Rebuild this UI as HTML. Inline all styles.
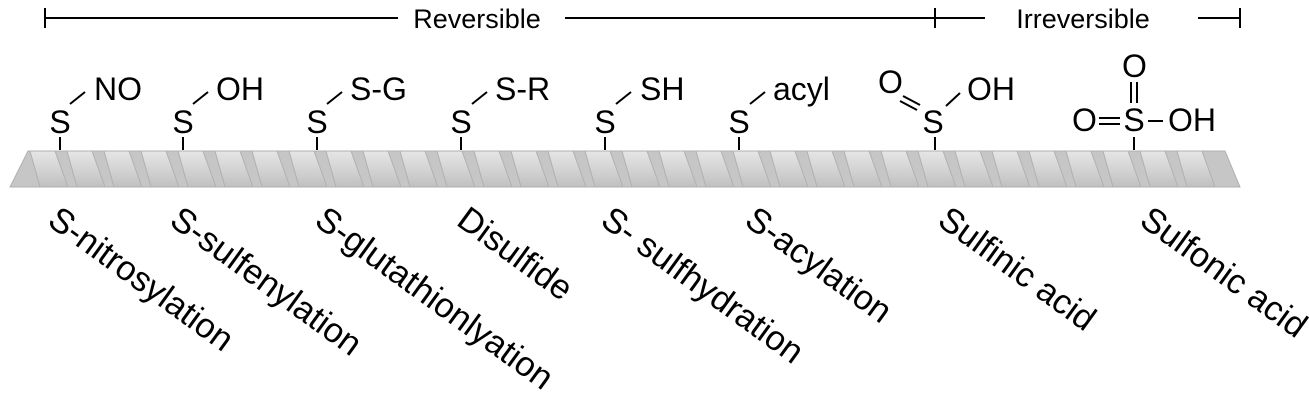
<!DOCTYPE html>
<html><head><style>body{margin:0;background:#fff}svg{display:block}</style></head><body>
<svg width="1309" height="401" viewBox="0 0 1309 401" xmlns="http://www.w3.org/2000/svg" font-family="Liberation Sans, Arial, sans-serif">
<defs>
<linearGradient id="g2" x1="0" y1="0" x2="0" y2="1">
<stop offset="0" stop-color="#e6e6e6"/><stop offset="0.5" stop-color="#d4d4d4"/><stop offset="1" stop-color="#c0c0c0"/></linearGradient>
</defs>
<g stroke="#000" stroke-width="2">
<line x1="45" y1="18" x2="398" y2="18"/><line x1="565" y1="18" x2="990" y2="18"/>
<line x1="45" y1="8" x2="45" y2="28"/><line x1="935" y1="8" x2="935" y2="28"/>
<line x1="1198" y1="18" x2="1240" y2="18"/><line x1="1240" y1="8" x2="1240" y2="28"/>
</g>
<rect x="985" y="8" width="195" height="22" fill="#fff"/>
<text x="477" y="28" font-size="27" text-anchor="middle">Reversible</text>
<text x="1083" y="28" font-size="27" text-anchor="middle">Irreversible</text>
<polygon points="28,151 1225,151 1240,187 10,187" fill="#c6c6c6" stroke="#b0b0b0"/>
<g stroke="#b0b0b0" stroke-width="1">
<polygon points="30,151 55,151 68,187 40,187" fill="url(#g2)"/>
<polygon points="67,151 92,151 105,187 77,187" fill="url(#g2)"/>
<polygon points="104,151 129,151 142,187 114,187" fill="url(#g2)"/>
<polygon points="141,151 166,151 179,187 151,187" fill="url(#g2)"/>
<polygon points="178,151 203,151 216,187 188,187" fill="url(#g2)"/>
<polygon points="215,151 240,151 253,187 225,187" fill="url(#g2)"/>
<polygon points="252,151 277,151 290,187 262,187" fill="url(#g2)"/>
<polygon points="289,151 314,151 327,187 299,187" fill="url(#g2)"/>
<polygon points="326,151 351,151 364,187 336,187" fill="url(#g2)"/>
<polygon points="363,151 388,151 401,187 373,187" fill="url(#g2)"/>
<polygon points="400,151 425,151 438,187 410,187" fill="url(#g2)"/>
<polygon points="437,151 462,151 475,187 447,187" fill="url(#g2)"/>
<polygon points="474,151 499,151 512,187 484,187" fill="url(#g2)"/>
<polygon points="511,151 536,151 549,187 521,187" fill="url(#g2)"/>
<polygon points="548,151 573,151 586,187 558,187" fill="url(#g2)"/>
<polygon points="585,151 610,151 623,187 595,187" fill="url(#g2)"/>
<polygon points="622,151 647,151 660,187 632,187" fill="url(#g2)"/>
<polygon points="659,151 684,151 697,187 669,187" fill="url(#g2)"/>
<polygon points="696,151 721,151 734,187 706,187" fill="url(#g2)"/>
<polygon points="733,151 758,151 771,187 743,187" fill="url(#g2)"/>
<polygon points="770,151 795,151 808,187 780,187" fill="url(#g2)"/>
<polygon points="807,151 832,151 845,187 817,187" fill="url(#g2)"/>
<polygon points="844,151 869,151 882,187 854,187" fill="url(#g2)"/>
<polygon points="881,151 906,151 919,187 891,187" fill="url(#g2)"/>
<polygon points="918,151 943,151 956,187 928,187" fill="url(#g2)"/>
<polygon points="955,151 980,151 993,187 965,187" fill="url(#g2)"/>
<polygon points="992,151 1017,151 1030,187 1002,187" fill="url(#g2)"/>
<polygon points="1029,151 1054,151 1067,187 1039,187" fill="url(#g2)"/>
<polygon points="1066,151 1091,151 1104,187 1076,187" fill="url(#g2)"/>
<polygon points="1103,151 1128,151 1141,187 1113,187" fill="url(#g2)"/>
<polygon points="1140,151 1165,151 1178,187 1150,187" fill="url(#g2)"/>
<polygon points="1177,151 1202,151 1215,187 1187,187" fill="url(#g2)"/>
</g>
<g font-size="32" text-anchor="middle">
<text x="60" y="133">S</text><text x="183" y="133">S</text><text x="317" y="133">S</text><text x="461" y="133">S</text>
<text x="605" y="133">S</text><text x="739" y="133">S</text><text x="933" y="133">S</text><text x="1134" y="131">S</text>
</g>
<g font-size="32">
<text x="94" y="100">NO</text><text x="216" y="100">OH</text><text x="350" y="100">S-G</text><text x="495" y="100">S-R</text>
<text x="640" y="100">SH</text><text x="773" y="100">acyl</text>
<text x="967" y="100">OH</text><text x="878" y="93">O</text>
<text x="1072" y="131">O</text><text x="1122" y="77">O</text><text x="1168" y="131">OH</text>
</g>
<g stroke="#000" stroke-width="2">
<line x1="60" y1="137" x2="60" y2="150"/><line x1="183" y1="137" x2="183" y2="150"/><line x1="317" y1="137" x2="317" y2="150"/>
<line x1="461" y1="137" x2="461" y2="150"/><line x1="605" y1="137" x2="605" y2="150"/><line x1="739" y1="137" x2="739" y2="150"/>
<line x1="935" y1="137" x2="935" y2="150"/><line x1="1134" y1="137" x2="1134" y2="150"/>
<line x1="70" y1="104" x2="85" y2="92"/><line x1="193" y1="104" x2="208" y2="92"/><line x1="327" y1="104" x2="342" y2="92"/>
<line x1="472" y1="104" x2="487" y2="92"/><line x1="616" y1="104" x2="631" y2="92"/><line x1="750" y1="104" x2="765" y2="92"/>
<line x1="946" y1="106" x2="960" y2="93"/>
<line x1="903" y1="96" x2="920" y2="105"/><line x1="900" y1="101" x2="917" y2="110"/>
<line x1="1099" y1="118" x2="1120" y2="118"/><line x1="1099" y1="124" x2="1120" y2="124"/>
<line x1="1131" y1="82" x2="1131" y2="103"/><line x1="1137" y1="82" x2="1137" y2="103"/>
<line x1="1148" y1="121" x2="1163" y2="121"/>
</g>
<g font-size="34.5">
<text transform="translate(46,224) rotate(36)">S-nitrosylation</text>
<text transform="translate(168,224) rotate(36)">S-sulfenylation</text>
<text transform="translate(313,224) rotate(36)">S-glutathionlyation</text>
<text transform="translate(455,224) rotate(36)">Disulfide</text>
<text transform="translate(599,224) rotate(36)">S- sulfhydration</text>
<text transform="translate(743,224) rotate(36)">S-acylation</text>
<text transform="translate(936,224) rotate(36)">Sulfinic acid</text>
<text transform="translate(1138,224) rotate(36)">Sulfonic acid</text>
</g>
</svg>
</body></html>
